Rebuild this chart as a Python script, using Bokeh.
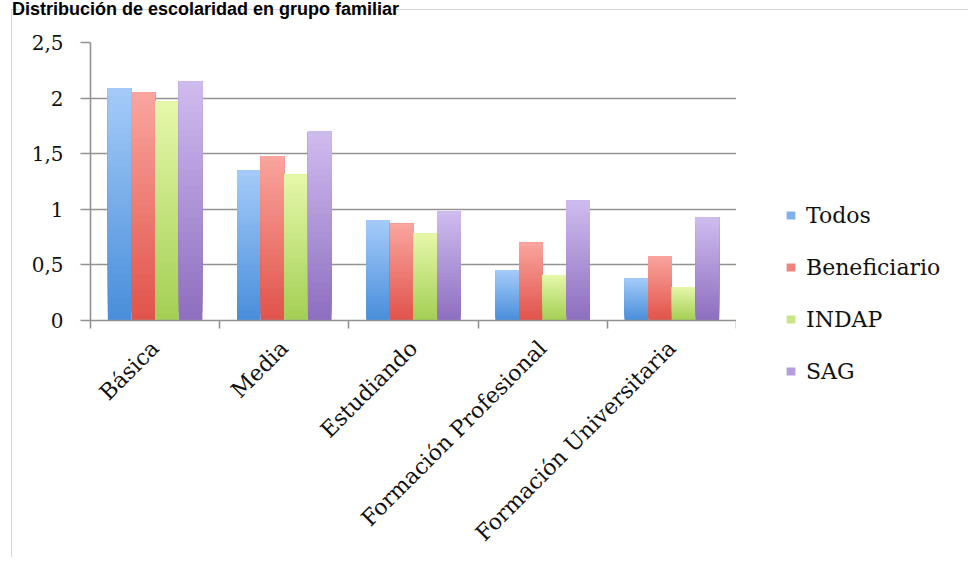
import numpy as np
from bokeh.plotting import figure
from bokeh.layouts import row, column
from bokeh.models import ColumnDataSource, FixedTicker, Legend, LegendItem, Range1d, Div
from bokeh.embed import file_html
from bokeh.resources import INLINE

# ---------------- data ----------------
categories = ["Básica", "Media", "Estudiando", "Formación Profesional", "Formación Universitaria"]
series_names = ["Todos", "Beneficiario", "INDAP", "SAG"]
todos = [2.09, 1.35, 0.90, 0.45, 0.38]
beneficiario = [2.05, 1.48, 0.87, 0.70, 0.58]
indap = [1.97, 1.31, 0.78, 0.41, 0.30]
sag = [2.15, 1.70, 0.98, 1.08, 0.93]
y_ticks = [0, 0.5, 1, 1.5, 2, 2.5]
y_tick_labels = ["0", "0,5", "1", "1,5", "2", "2,5"]
title_text = "Distribución de escolaridad en grupo familiar"

# ---------------- style ----------------
top_colors = ["#a3caf8", "#f9a49d", "#e4f7a8", "#cebbee"]
bottom_colors = ["#4a8fdb", "#e1544b", "#a4cf55", "#8e6fc0"]
SERIF = "DejaVu Serif"
GRID = "#929292"
LINE = "#d6d6d6"

values = [todos, beneficiario, indap, sag]
n_cat = len(categories)
bar_w = 0.183
offsets = [-1.5 * bar_w, -0.5 * bar_w, 0.5 * bar_w, 1.5 * bar_w]
N = 30


def hex2rgb(h):
    h = h.lstrip("#")
    return np.array([int(h[i:i + 2], 16) for i in (0, 2, 4)], dtype=float)


def mix(c0, c1, t):
    c = hex2rgb(c0) * (1 - t) + hex2rgb(c1) * t
    return "#%02x%02x%02x" % tuple(int(round(v)) for v in c)


TOTAL_W, TOTAL_H = 968, 557
TH = 22                      # title strip height
H = TOTAL_H - TH
FL, FR, FT, FB = 90, 736, 42 - TH, 322 - TH

# ---------------- title strip ----------------
title_div = Div(
    text=(f'<div style="font-family: \'Liberation Sans\', Arial, sans-serif; font-weight: bold; '
          f'font-size: 18px; line-height: 19px; color: #000; white-space: nowrap; '
          f'padding-left: 12px; margin: 0;">{title_text}</div>'),
    width=TOTAL_W, height=TH, margin=0,
    styles={"background": (f"linear-gradient({LINE},{LINE}) 11px 9px / 100% 1px no-repeat, "
                           f"linear-gradient({LINE},{LINE}) 11px 9px / 1px 100% no-repeat, white"),
            "overflow": "visible"},
)

# ---------------- main chart ----------------
p = figure(width=FR, height=H, output_backend="svg", toolbar_location=None,
           x_range=Range1d(0, n_cat), y_range=Range1d(0, 2.5),
           min_border_left=FL, min_border_right=0, min_border_top=FT,
           min_border_bottom=H - FB)
p.frame_align = False
p.outline_line_color = None
p.background_fill_color = "white"
p.border_fill_color = None
p.styles = {"background": f"linear-gradient({LINE},{LINE}) 11px 0px / 1px 100% no-repeat, white"}

for s, vals in enumerate(values):
    xs, bottoms, tops, cols = [], [], [], []
    for k in range(N):
        t = k / (N - 1)
        col = mix(bottom_colors[s], top_colors[s], t)
        for i, v in enumerate(vals):
            xs.append(i + 0.5 + offsets[s])
            bottoms.append(v * k / N)
            tops.append(v)
            cols.append(col)
    src = ColumnDataSource(dict(x=xs, bottom=bottoms, top=tops, color=cols))
    p.vbar(x="x", bottom="bottom", top="top", width=bar_w, source=src,
           fill_color="color", line_color=None)

# grid
p.xgrid.visible = False
p.ygrid.ticker = FixedTicker(ticks=y_ticks)
p.ygrid.grid_line_color = GRID
p.ygrid.grid_line_width = 1.6

# y axis
ya = p.yaxis[0]
ya.ticker = FixedTicker(ticks=y_ticks)
ya.major_label_overrides = {t: l for t, l in zip(y_ticks, y_tick_labels)}
ya.axis_line_color = GRID
ya.axis_line_width = 1.6
ya.major_tick_line_color = GRID
ya.major_tick_line_width = 1.6
ya.major_tick_out = 10
ya.major_tick_in = 0
ya.minor_tick_line_color = None
ya.major_label_text_font = SERIF
ya.major_label_text_font_size = "20px"
ya.major_label_text_color = "#111111"
ya.major_label_standoff = 17

# x axis
centers = [i + 0.5 for i in range(n_cat)]
xa = p.xaxis[0]
xa.ticker = FixedTicker(ticks=centers, minor_ticks=list(range(n_cat + 1)))
xa.major_label_overrides = {c: l for c, l in zip(centers, categories)}
xa.axis_line_color = GRID
xa.axis_line_width = 1.6
xa.major_tick_line_color = None
xa.major_tick_out = 0
xa.major_tick_in = 0
xa.minor_tick_line_color = GRID
xa.minor_tick_line_width = 1.6
xa.minor_tick_out = 8
xa.minor_tick_in = 0
xa.major_label_orientation = np.pi / 4
xa.major_label_text_font = SERIF
xa.major_label_text_font_size = "22px"
xa.major_label_text_color = "#111111"
xa.major_label_standoff = 16

# ---------------- legend panel ----------------
LW = TOTAL_W - FR
pl = figure(width=LW, height=H, output_backend="svg", toolbar_location=None,
            x_range=Range1d(0, 1), y_range=Range1d(0, 1), min_border=0)
pl.frame_align = False
pl.outline_line_color = None
pl.background_fill_color = None
pl.border_fill_color = None
pl.axis.visible = False
pl.grid.visible = False
pl.styles = {"background": "white"}

legend_renderers = []
for s in range(len(series_names)):
    r = pl.vbar(x=[-5], top=[-5], bottom=[-6], width=0.1,
                fill_color=mix(bottom_colors[s], top_colors[s], 0.6), line_color=None)
    legend_renderers.append(r)

items = [LegendItem(label=n, renderers=[r]) for n, r in zip(series_names, legend_renderers)]
legend = Legend(items=items, location=(49, 173), orientation="vertical",
                padding=0, margin=0, spacing=26, label_height=26,
                glyph_width=11, glyph_height=10, label_standoff=10,
                label_text_font=SERIF, label_text_font_size="22px",
                label_text_color="#111111",
                border_line_color=None, background_fill_alpha=0)
pl.add_layout(legend, "center")

layout = column(title_div, row(p, pl, spacing=0), spacing=0)
open("out.html", "w").write(file_html(layout, INLINE))
